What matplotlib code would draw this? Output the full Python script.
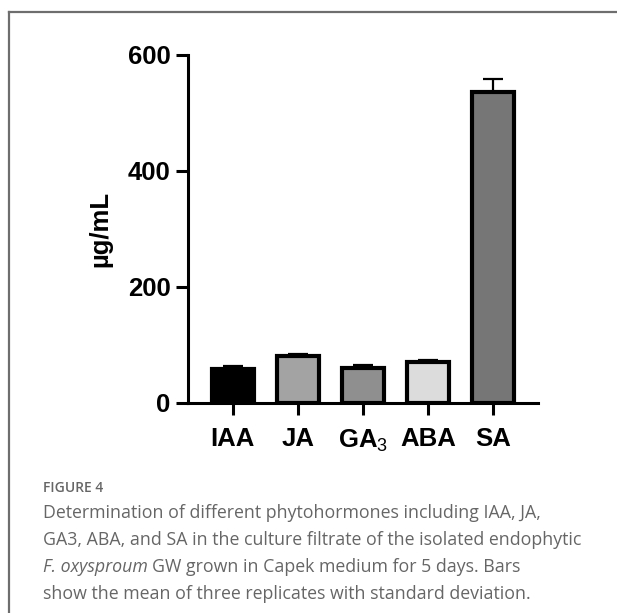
import numpy as np
import matplotlib
matplotlib.use("Agg")
import matplotlib.pyplot as plt
from matplotlib.lines import Line2D

plt.rcParams['font.family'] = ['Liberation Sans', 'DejaVu Sans']
plt.rcParams['mathtext.fontset'] = 'custom'
plt.rcParams['mathtext.rm'] = 'Liberation Sans'

# data
hormones = ['IAA', 'JA', 'GA$_{\\mathrm{3}}$', 'ABA', 'SA']
means = [59, 81, 61, 71, 537]
sds = [4, 4, 4, 4, 22]
bar_colors = ['#000000', '#a3a3a3', '#8f8f8f', '#dcdcdc', '#767676']
yticks = [0, 200, 400, 600]

W, H = 617, 613
fig = plt.figure(figsize=(W / 100, H / 100), dpi=100)

# axes placed in pixel terms
left, right, top, bottom = 188, 538, 55, 403
ax = fig.add_axes([left / W, 1 - bottom / H, (right - left) / W, (bottom - top) / H])

x = np.arange(len(hormones))
ax.bar(x, means, width=0.65, color=bar_colors, edgecolor='black', linewidth=3, zorder=2)
ax.errorbar(x, means, yerr=[np.zeros(len(sds)), sds], fmt='none', ecolor='black',
            elinewidth=1.6, capsize=7.5, capthick=1.6, zorder=1)

ax.set_xlim(-0.69, 4.69)
ax.set_ylim(0, 600)
ax.set_yticks(yticks)
ax.set_xticks(x)
ax.set_xticklabels(hormones, fontsize=18.5, fontweight='bold')
ax.set_yticklabels([str(t) for t in yticks], fontsize=18.5, fontweight='bold')
ax.tick_params(axis='both', length=8.5, width=2.2)
ax.tick_params(axis='x', pad=9)
ax.tick_params(axis='y', pad=4)
for side in ['top', 'right']:
    ax.spines[side].set_visible(False)
for side in ['left', 'bottom']:
    ax.spines[side].set_linewidth(2.2)
ax.set_ylabel('µg/mL', fontsize=18.5, fontweight='bold', labelpad=11)

# outer frame of the figure panel
frame_col = '#6e6e6e'
fig.add_artist(Line2D([9 / W, 9 / W], [0, 1 - 12 / H], color=frame_col, lw=1.6))
fig.add_artist(Line2D([9 / W, 1], [1 - 12 / H, 1 - 12 / H], color=frame_col, lw=1.6))

# caption
cap_col = '#666666'
cx = 43 / W
fs = 12.8
fig.text(cx, 1 - 488 / H, 'FIGURE 4', fontsize=10, color=cap_col, family='Open Sans',
         fontweight='semibold', va='center')
lines = [
    'Determination of different phytohormones including IAA, JA,',
    'GA3, ABA, and SA in the culture filtrate of the isolated endophytic',
    None,
    'show the mean of three replicates with standard deviation.',
]
ys = [513, 540, 567, 594]
for t, yy in zip(lines, ys):
    if t is None:
        continue
    fig.text(cx, 1 - yy / H, t, fontsize=fs, color=cap_col, family='Open Sans', va='center')
t1 = fig.text(cx, 1 - 567 / H, 'F. oxysproum', fontsize=fs, color=cap_col,
              family='Open Sans', style='italic', va='center')
fig.canvas.draw()
bb = t1.get_window_extent()
fig.text(bb.x1 / W + 4 / W, 1 - 567 / H, 'GW grown in Capek medium for 5 days. Bars',
         fontsize=fs, color=cap_col, family='Open Sans', va='center')

fig.savefig('out.png', dpi=100)
